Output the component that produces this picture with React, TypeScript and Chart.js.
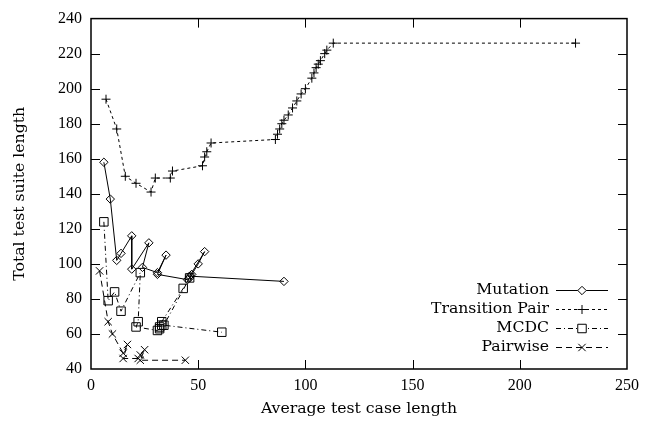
import React, { useEffect, useRef } from 'react';
import { Chart, registerables } from 'chart.js';

Chart.register(...registerables);

const seriesNames = ['Mutation', 'Transition Pair', 'MCDC', 'Pairwise'];

const mutationX = [6, 9, 12, 14, 19, 19, 27, 24, 31, 35, 31, 45, 46, 47, 50, 53, 46, 90];
const mutationY = [158, 137, 102, 106, 116, 97, 112, 98, 95, 105, 94, 91, 92, 94, 100, 107, 93, 90];

const transitionX = [7, 12, 16, 21, 28, 30, 37, 38, 52, 53, 54, 56, 86, 87, 88, 89, 90, 92, 94, 96, 98, 100, 103, 104, 105, 106, 107, 109, 110, 113, 226];
const transitionY = [194, 177, 150, 146, 141, 149, 149, 153, 156, 161, 164, 169, 171, 174, 177, 180, 182, 185, 189, 193, 197, 200, 206, 209, 212, 214, 216, 220, 222, 226, 226];

const mcdcX = [6, 8, 11, 14, 23, 22, 21, 31, 32, 32, 33, 33, 43, 46, 34, 61];
const mcdcY = [124, 79, 84, 73, 95, 67, 64, 62, 63, 64, 65, 67, 86, 92, 65, 61];

const pairwiseX = [4, 8, 10, 15, 17, 15, 22, 23, 25, 23, 44];
const pairwiseY = [96, 67, 60, 49, 54, 46, 46, 48, 51, 45, 45];

const xTickValues = [0, 50, 100, 150, 200, 250];
const yTickValues = [40, 60, 80, 100, 120, 140, 160, 180, 200, 220, 240];

const xTitle = 'Average test case length';
const yTitle = 'Total test suite length';

const TICK_FONT = { family: '"Liberation Serif", serif', size: 16 };
const TEXT_FAMILY = '"DejaVu Serif", serif';
const TEXT_SIZE = 15.7;

const toPoints = (xs: number[], ys: number[]) => xs.map((x, i) => ({ x, y: ys[i] }));

const styles = [
  { pointStyle: 'rectRot', radius: 4.2, dash: [] as number[] },
  { pointStyle: 'cross', radius: 4.5, dash: [3, 3] },
  { pointStyle: 'rect', radius: 6, dash: [5, 3, 1, 3] },
  { pointStyle: 'crossRot', radius: 5.2, dash: [6, 4] },
];

function drawMarker(ctx: CanvasRenderingContext2D, style: string, x: number, y: number, r: number) {
  ctx.beginPath();
  if (style === 'rectRot') {
    ctx.moveTo(x, y - r);
    ctx.lineTo(x + r, y);
    ctx.lineTo(x, y + r);
    ctx.lineTo(x - r, y);
    ctx.closePath();
  } else if (style === 'cross') {
    ctx.moveTo(x - r, y);
    ctx.lineTo(x + r, y);
    ctx.moveTo(x, y - r);
    ctx.lineTo(x, y + r);
  } else if (style === 'rect') {
    const s = r * Math.SQRT1_2;
    ctx.rect(x - s, y - s, 2 * s, 2 * s);
  } else {
    const s = r * Math.SQRT1_2;
    ctx.moveTo(x - s, y - s);
    ctx.lineTo(x + s, y + s);
    ctx.moveTo(x - s, y + s);
    ctx.lineTo(x + s, y - s);
  }
  ctx.stroke();
}

const framePlugin = {
  id: 'gnuFrame',
  afterDatasetsDraw(chart: any) {
    const { ctx, chartArea: a, scales } = chart;
    ctx.save();
    ctx.setLineDash([]);
    ctx.strokeStyle = '#000';
    ctx.lineWidth = 1.5;
    ctx.strokeRect(a.left, a.top, a.right - a.left, a.bottom - a.top);
    ctx.lineWidth = 1;
    const L = 9;
    ctx.beginPath();
    scales.x.ticks.forEach((t: any) => {
      const px = Math.round(scales.x.getPixelForValue(t.value)) + 0.5;
      if (px <= a.left + 2 || px >= a.right - 2) return;
      ctx.moveTo(px, a.bottom);
      ctx.lineTo(px, a.bottom - L);
      ctx.moveTo(px, a.top);
      ctx.lineTo(px, a.top + L);
    });
    scales.y.ticks.forEach((t: any) => {
      const py = Math.round(scales.y.getPixelForValue(t.value)) + 0.5;
      if (py <= a.top + 2 || py >= a.bottom - 2) return;
      ctx.moveTo(a.left, py);
      ctx.lineTo(a.left + L, py);
      ctx.moveTo(a.right, py);
      ctx.lineTo(a.right - L, py);
    });
    ctx.stroke();

    // gnuplot-style key
    ctx.font = `${TEXT_SIZE}px ${TEXT_FAMILY}`;
    ctx.fillStyle = '#000';
    ctx.textAlign = 'right';
    ctx.textBaseline = 'middle';
    chart.data.datasets.forEach((ds: any, i: number) => {
      const y = a.bottom - 79 + 19 * i;
      ctx.fillText(ds.label, a.right - 78, y);
      ctx.lineWidth = 1;
      ctx.setLineDash(styles[i].dash);
      ctx.beginPath();
      ctx.moveTo(a.right - 71, y + 0.5);
      ctx.lineTo(a.right - 19, y + 0.5);
      ctx.stroke();
      ctx.setLineDash([]);
      if (styles[i].pointStyle === 'rectRot' || styles[i].pointStyle === 'rect') {
        ctx.fillStyle = '#fff';
        const s = styles[i].pointStyle === 'rect' ? styles[i].radius * Math.SQRT1_2 : styles[i].radius;
        ctx.fillRect(a.right - 45 - s, y - s, 2 * s, 2 * s);
        ctx.fillStyle = '#000';
      }
      drawMarker(ctx, styles[i].pointStyle, a.right - 45, y + 0.5, styles[i].radius);
    });
    ctx.restore();
  },
};

export default function App() {
  const ref = useRef<HTMLCanvasElement | null>(null);

  useEffect(() => {
    if (!ref.current) return;
    const series = [
      toPoints(mutationX, mutationY),
      toPoints(transitionX, transitionY),
      toPoints(mcdcX, mcdcY),
      toPoints(pairwiseX, pairwiseY),
    ];
    const chart = new Chart(ref.current, {
      type: 'scatter',
      data: {
        datasets: series.map((data, i) => ({
          label: seriesNames[i],
          data,
          showLine: true,
          borderColor: '#000',
          borderWidth: 1,
          borderDash: styles[i].dash,
          pointStyle: styles[i].pointStyle as any,
          pointRadius: styles[i].radius,
          pointBorderColor: '#000',
          pointBackgroundColor: 'rgba(0,0,0,0)',
          pointBorderWidth: 1,
          tension: 0,
          order: i,
        })),
      },
      options: {
        responsive: false,
        animation: false,
        layout: { padding: { top: 15, right: 25, left: 0, bottom: 0 } },
        plugins: { legend: { display: false }, tooltip: { enabled: false } },
        scales: {
          x: {
            type: 'linear',
            min: xTickValues[0],
            max: xTickValues[xTickValues.length - 1],
            afterBuildTicks: (s: any) => { s.ticks = xTickValues.map((v) => ({ value: v })); },
            ticks: { font: TICK_FONT, color: '#000', padding: 7, maxRotation: 0 },
            grid: { display: false, drawTicks: false },
            border: { display: false },
            title: {
              display: true,
              text: xTitle,
              color: '#000',
              font: { family: TEXT_FAMILY, size: TEXT_SIZE },
              padding: { top: 0, bottom: 10 },
            },
            afterFit: (s: any) => { s.height = 59; },
          },
          y: {
            type: 'linear',
            min: yTickValues[0],
            max: yTickValues[yTickValues.length - 1],
            afterBuildTicks: (s: any) => { s.ticks = yTickValues.map((v) => ({ value: v })); },
            ticks: { font: TICK_FONT, color: '#000', padding: 9 },
            grid: { display: false, drawTicks: false },
            border: { display: false },
            title: {
              display: true,
              text: yTitle,
              color: '#000',
              font: { family: TEXT_FAMILY, size: TEXT_SIZE },
              padding: { top: 11, bottom: 0 },
            },
            afterFit: (s: any) => { s.width = 91; },
          },
        },
      },
      plugins: [framePlugin],
    });
    return () => chart.destroy();
  }, []);

  return (
    <div style={{ position: 'fixed', left: 0, top: 0, width: 652, height: 428, background: '#fff' }}>
      <canvas ref={ref} width={652} height={428} style={{ width: 652, height: 428, display: 'block' }} />
    </div>
  );
}
